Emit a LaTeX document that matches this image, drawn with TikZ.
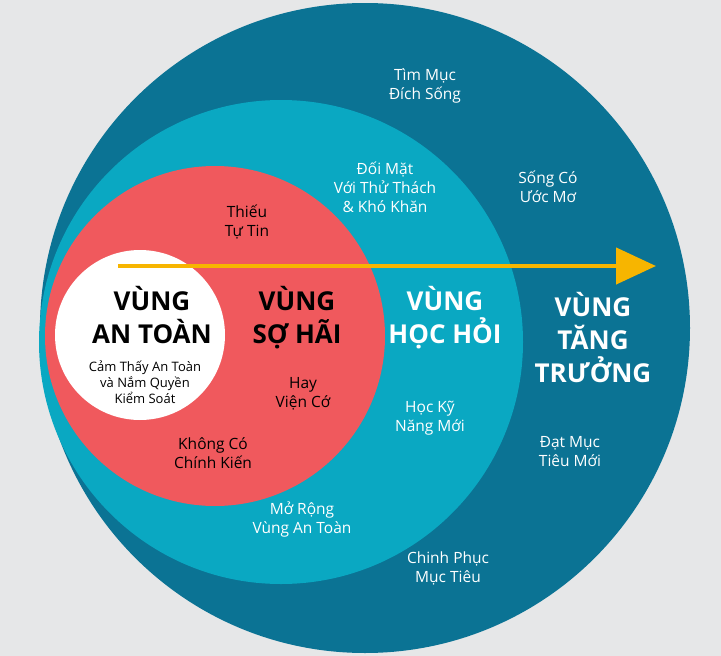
\documentclass[tikz,border=0pt]{standalone}
\usepackage{fontspec}
\setmainfont{Open Sans}
\usetikzlibrary{arrows.meta}
\definecolor{bg}{HTML}{E6E7E8}
\definecolor{dblue}{HTML}{0B7394}
\definecolor{teal}{HTML}{0AA8C2}
\definecolor{redz}{HTML}{F0595D}
\definecolor{yel}{HTML}{F7B500}
\begin{document}
\begin{tikzpicture}[x=1pt,y=-1pt,
  lbl/.style={align=center,font=\fontsize{15.5}{19}\selectfont,inner sep=0pt},
  wl/.style={lbl,text=white},
  head/.style={align=center,font=\bfseries\fontsize{26}{33}\selectfont,inner sep=0pt}]
\fill[bg] (0,0) rectangle (721,656);
\useasboundingbox (0,0) rectangle (721,656);
\fill[dblue] (365,328) circle (325);
\fill[teal] (281,342) circle (242);
\fill[redz] (215,336) circle (170);
\fill[white] (140,335) circle (85);
\coordinate (as) at (118,266);
\coordinate (ae) at (656,266);
\draw[yel,line width=4.5pt,-{Triangle[length=40pt,width=36pt]}] (as) -- (ae);
\node[wl] (t1) at (425,86) {Tìm Mục\\Đích Sống};
\node[wl] (t2) at (548,187) {Sống Có\\Ước Mơ};
\node[wl] (t3) at (570,452) {Đạt Mục\\Tiêu Mới};
\node[wl] (t4) at (448,568) {Chinh Phục\\Mục Tiêu};
\node[head,text=white] (h4) at (593,338) {VÙNG\\TĂNG\\TRƯỞNG};
\node[wl] (c1) at (385,187) {Đối Mặt\\Với Thử Thách\\\& Khó Khăn};
\node[head,text=white] (h3) at (445,318) {VÙNG\\HỌC HỎI};
\node[wl] (c2) at (430,418) {Học Kỹ\\Năng Mới};
\node[wl] (c3) at (302,520) {Mở Rộng\\Vùng An Toàn};
\node[lbl] (r1) at (247,222) {Thiếu\\Tự Tin};
\node[head] (h2) at (297,318) {VÙNG\\SỢ HÃI};
\node[lbl] (r2) at (303,394) {Hay\\Viện Cớ};
\node[lbl] (r3) at (213,453) {Không Có\\Chính Kiến};
\node[head] (h1) at (152,315) {VÙNG\\AN TOÀN};
\node[lbl,font=\fontsize{13}{16}\selectfont] (w1) at (145,382) {Cảm Thấy An Toàn\\và Nắm Quyền\\Kiểm Soát};
\end{tikzpicture}
\end{document}
